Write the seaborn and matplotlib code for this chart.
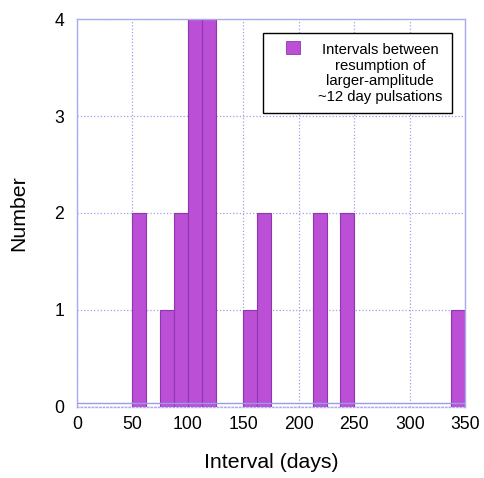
import numpy as np
import pandas as pd
import matplotlib
matplotlib.use("Agg")
import matplotlib.pyplot as plt
import seaborn as sns
from matplotlib.patches import Rectangle

# histogram: bin width 12.5 days
bin_centers = [56.25, 81.25, 93.75, 106.25, 118.75, 156.25, 168.75, 218.75, 243.75, 343.75]
counts = [2, 1, 2, 4, 4, 1, 2, 2, 2, 1]
bin_width = 12.5
legend_label = "Intervals between\nresumption of\nlarger-amplitude\n~12 day pulsations"
x_ticks = [0, 50, 100, 150, 200, 250, 300, 350]
y_ticks = [0, 1, 2, 3, 4]

df = pd.DataFrame({"interval": bin_centers, "count": counts})

sns.set_theme(style="white")
plt.rcParams["font.family"] = ["Liberation Sans", "DejaVu Sans"]

fig = plt.figure(figsize=(4.84, 4.78), dpi=100)
ax = fig.add_axes([0.1587, 0.1492, 0.8027, 0.8104])

bar_color = "#bb4fd6"
grid_color = "#a0a0ea"
frame_color = "#aaaaee"

bin_edges = [i * bin_width for i in range(int(350 / bin_width) + 1)]
sns.histplot(data=df, x="interval", weights="count", bins=bin_edges,
             color=bar_color, alpha=1.0, edgecolor="#8e38b0", linewidth=0.8,
             ax=ax)

ax.set_xlim(0, 350)
ax.set_ylim(0, 4)
ax.set_xticks(x_ticks)
ax.set_yticks(y_ticks)
ax.tick_params(axis="both", length=0, labelsize=12.7, colors="black")
ax.tick_params(axis="x", pad=7)
ax.tick_params(axis="y", pad=9)

ax.grid(True, linestyle=":", color=grid_color, linewidth=0.9, zorder=0)
ax.set_axisbelow(True)
for side, sp in ax.spines.items():
    sp.set_color(frame_color)
    sp.set_linewidth(1.0)
ax.spines["bottom"].set_linestyle(":")

# thin base line just above zero
ax.axhline(0.04, color="#9a9ae8", linewidth=1.0, zorder=3)

ax.set_xlabel("Interval (days)", fontsize=15.3, labelpad=14, color="black")
ax.set_ylabel("Number", fontsize=15.3, labelpad=19, color="black")

# legend box
ax.add_patch(Rectangle((0.4785, 0.759), 0.4865, 0.2064, transform=ax.transAxes,
                       facecolor="white", edgecolor="black", linewidth=1.0, zorder=5))
ax.add_patch(Rectangle((0.5385, 0.9097), 0.036, 0.0351, transform=ax.transAxes,
                       facecolor=bar_color, edgecolor="#8e38b0", linewidth=0.6, zorder=6))
ax.text(0.7805, 0.860, legend_label, transform=ax.transAxes, ha="center", va="center",
        multialignment="center", fontsize=10.7, linespacing=1.16, color="black", zorder=7)

fig.savefig("out.png", dpi=100)
